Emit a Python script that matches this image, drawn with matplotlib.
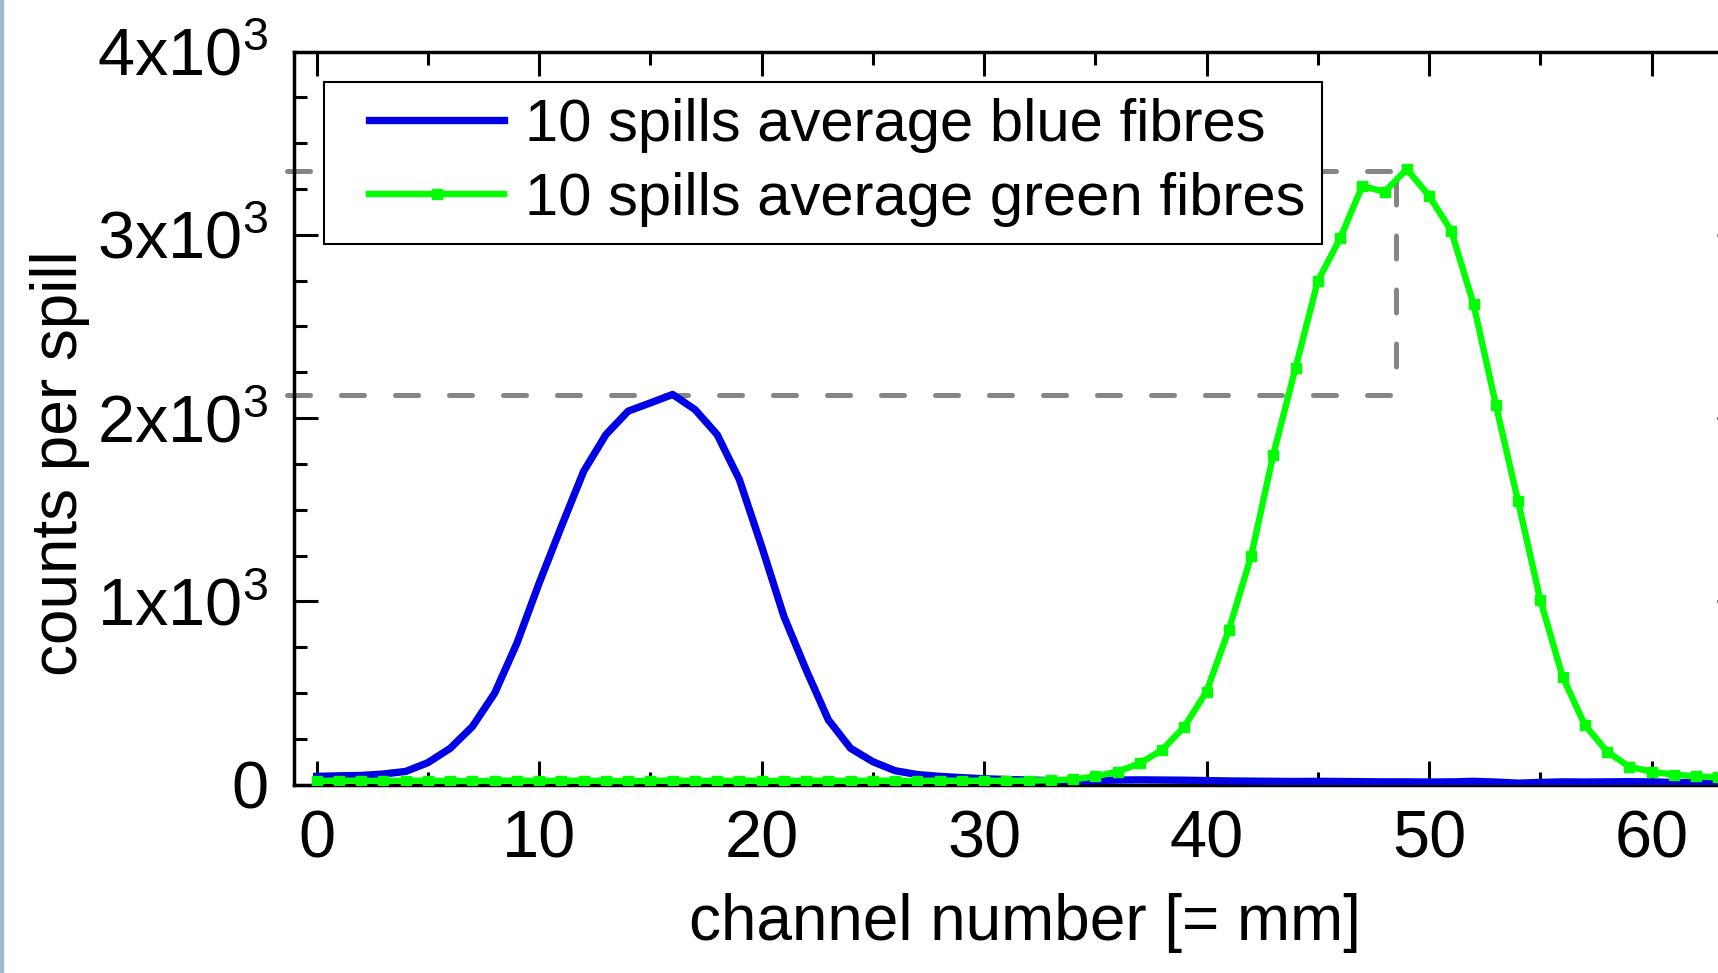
import matplotlib
matplotlib.use("Agg")
import matplotlib.pyplot as plt
from matplotlib.patches import Rectangle
from matplotlib.legend_handler import HandlerLine2D
from matplotlib.ticker import MultipleLocator, FuncFormatter

plt.rcParams['font.family'] = ['Liberation Sans', 'DejaVu Sans']
plt.rcParams['mathtext.default'] = 'regular'

# channel number (= mm)
channels = list(range(64))

# 10 spills average, blue fibres
blue_counts = [45, 48, 50, 58, 72, 120, 198, 317, 499, 772,
               1100, 1409, 1710, 1910, 2038, 2083, 2129, 2047, 1910, 1664,
               1300, 918, 626, 353, 198, 125, 76, 55, 45, 38,
               32, 28, 25, 22, 20, 22, 25, 26, 25, 24,
               22, 20, 19, 18, 17, 18, 17, 16, 15, 15,
               14, 15, 18, 14, 8, 12, 15, 14, 15, 16,
               15, 12, 10, 10]

# 10 spills average, green fibres
green_counts = [20, 22, 21, 20, 22, 21, 20, 19, 21, 22,
                20, 21, 22, 20, 19, 21, 22, 21, 20, 22,
                21, 20, 22, 21, 20, 22, 21, 20, 22, 21,
                22, 20, 22, 24, 28, 45, 71, 116, 189, 316,
                508, 845, 1245, 1801, 2275, 2748, 2980, 3267, 3234, 3358,
                3213, 3021, 2621, 2074, 1546, 1009, 590, 326, 180, 98,
                70, 55, 45, 40]

# guide lines: peak heights and green peak position
blue_peak_level = 2125
green_peak_level = 3350
green_peak_pos = 48.5
guide_start = -1.33
vline_bottom = 2237


class InsetLine(HandlerLine2D):
    # legend line shorter than its box, marker in the middle
    def get_xdata(self, legend, xdescent, ydescent, width, height, fontsize):
        pad = 0.47 * fontsize
        return ([-xdescent + pad, -xdescent + width - pad],
                [-xdescent + width / 2])


fig = plt.figure(figsize=(17.18, 9.73), dpi=100)
fig.patches.append(Rectangle((0, 0), 3 / 1718, 1, transform=fig.transFigure,
                             color='#9fbbd0', zorder=0))
ax = fig.add_axes([0.1714, 0.1936, 0.8417, 0.7534])

dash = dict(color='#858585', lw=3.6, dash_capstyle='round', clip_on=False, zorder=1)
ax.plot([guide_start, green_peak_pos], [green_peak_level, green_peak_level],
        dashes=(4.6, 6.2), **dash)
ax.plot([guide_start, green_peak_pos], [blue_peak_level, blue_peak_level],
        dashes=(4.6, 6.2), **dash)
ax.plot([green_peak_pos, green_peak_pos], [green_peak_level, vline_bottom],
        linestyle=(8.7, (4.6, 6.2)), **dash)

ax.plot(channels, blue_counts, color='#0000e6', lw=5.3, zorder=3,
        label='10 spills average blue fibres')
ax.plot(channels, green_counts, color='#00ff00', lw=4.6, marker='s', ms=6.5,
        zorder=4, label='10 spills average green fibres')

ax.set_xlim(-1, 64)
ax.set_ylim(0, 4000)
ax.xaxis.set_major_locator(MultipleLocator(10))
ax.xaxis.set_minor_locator(MultipleLocator(5))
ax.yaxis.set_major_locator(MultipleLocator(1000))
ax.yaxis.set_minor_locator(MultipleLocator(250))


def ylab(v, pos):
    if v == 0:
        return '0'
    return r'$%dx10^3$' % round(v / 1000)


ax.yaxis.set_major_formatter(FuncFormatter(ylab))

for s in ax.spines.values():
    s.set_linewidth(2.5)
ax.tick_params(which='both', direction='in', top=True, right=True,
               width=2.2, labelsize=48)
ax.tick_params(which='major', length=17)
ax.tick_params(which='minor', length=9.5)
ax.tick_params(axis='x', pad=18)
ax.tick_params(axis='y', pad=19)

ax.set_xlabel('channel number [= mm]', fontsize=46)
ax.set_ylabel('counts per spill', fontsize=46)
ax.xaxis.set_label_coords(0.505, -0.148)
ax.yaxis.set_label_coords(-0.1415, 0.439)

leg = ax.legend(loc='upper left', bbox_to_anchor=(0.0205, 0.959),
                borderaxespad=0, fontsize=43, handlelength=3.21,
                handletextpad=-0.12, labelspacing=0.31, borderpad=0.28,
                fancybox=False, framealpha=1, edgecolor='black', numpoints=1,
                handler_map={plt.Line2D: InsetLine()})
leg.get_frame().set_linewidth(1.5)
leg.set_zorder(5)

fig.savefig('out.png', dpi=100)
